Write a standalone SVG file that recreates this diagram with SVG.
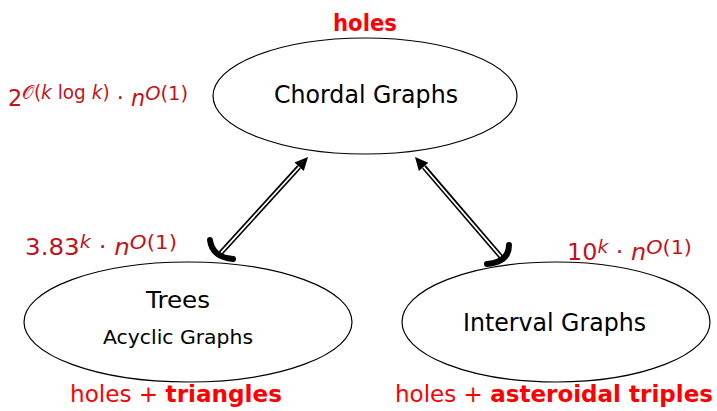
<svg xmlns="http://www.w3.org/2000/svg" width="717" height="411" viewBox="0 0 717 411">
<style>
.node{fill:#fff;stroke:#000;stroke-width:1.2}
.lbl{font-family:"DejaVu Sans","Liberation Sans",sans-serif;fill:#000;text-anchor:middle}
.cx{font-family:"DejaVu Sans","Liberation Sans",sans-serif;fill:#c0141c;font-size:23px}
.red{font-family:"DejaVu Sans","Liberation Sans",sans-serif;fill:#ff0000;font-size:23px}
.b{font-weight:bold}
.it{font-style:italic}
.outer{fill:none;stroke:#000;stroke-width:5}
.inner{fill:none;stroke:#fff;stroke-width:1.8}
.hook{fill:none;stroke:#000;stroke-width:6;stroke-linecap:round}
</style>
<rect width="717" height="411" fill="#fff"/>
<g id="chordal">
<ellipse class="node" cx="365" cy="96" rx="152" ry="58"/>
<text class="lbl" x="366" y="103" font-size="25" textLength="184" lengthAdjust="spacingAndGlyphs">Chordal Graphs</text>
</g>
<g id="trees">
<ellipse class="node" cx="188" cy="322" rx="164" ry="60"/>
<text class="lbl" x="178" y="308" font-size="23" textLength="64" lengthAdjust="spacingAndGlyphs">Trees</text>
<text class="lbl" x="178" y="344" font-size="20" textLength="150" lengthAdjust="spacingAndGlyphs">Acyclic Graphs</text>
</g>
<g id="interval">
<ellipse class="node" cx="556" cy="322" rx="154" ry="60"/>
<text class="lbl" x="554.5" y="331" font-size="25" textLength="183" lengthAdjust="spacingAndGlyphs">Interval Graphs</text>
</g>
<g id="connectors">
<path class="outer" d="M299 167 L218 256"/>
<path class="inner" d="M301 165 L218 256"/>
<polygon points="308,157 294.5,162.5 303.8,171" fill="#000"/>
<path class="hook" d="M210 240 Q212 257 233 259"/>
<path class="outer" d="M424 167 L502 258"/>
<path class="inner" d="M422 165 L502 258"/>
<polygon points="415,157 428.3,162.8 418.9,171" fill="#000"/>
<path class="hook" d="M509 245 Q509 262 487 264"/>
</g>
<g id="labels">
<text class="red b" x="365" y="31" text-anchor="middle" textLength="64" lengthAdjust="spacingAndGlyphs">holes</text>
<text class="cx" x="8" y="106" textLength="180" lengthAdjust="spacingAndGlyphs">2<tspan dy="-7" font-size="19">𝒪(<tspan class="it">k</tspan> log <tspan class="it">k</tspan>)</tspan><tspan dy="7"> · </tspan><tspan class="it">n</tspan><tspan dy="-6" font-size="20"><tspan class="it">O</tspan>(1)</tspan></text>
<text class="cx" x="25" y="255" textLength="152" lengthAdjust="spacingAndGlyphs">3.83<tspan dy="-7" font-size="18" class="it">k</tspan><tspan dy="7"> · </tspan><tspan class="it">n</tspan><tspan dy="-6" font-size="20"><tspan class="it">O</tspan>(1)</tspan></text>
<text class="cx" x="567" y="260" textLength="125" lengthAdjust="spacingAndGlyphs">10<tspan dy="-7" font-size="18" class="it">k</tspan><tspan dy="7"> · </tspan><tspan class="it">n</tspan><tspan dy="-6" font-size="20"><tspan class="it">O</tspan>(1)</tspan></text>
<text class="red" x="70" y="402" textLength="212" lengthAdjust="spacingAndGlyphs">holes + <tspan class="b">triangles</tspan></text>
<text class="red" x="395" y="402" textLength="318" lengthAdjust="spacingAndGlyphs">holes + <tspan class="b">asteroidal triples</tspan></text>
</g>
</svg>
